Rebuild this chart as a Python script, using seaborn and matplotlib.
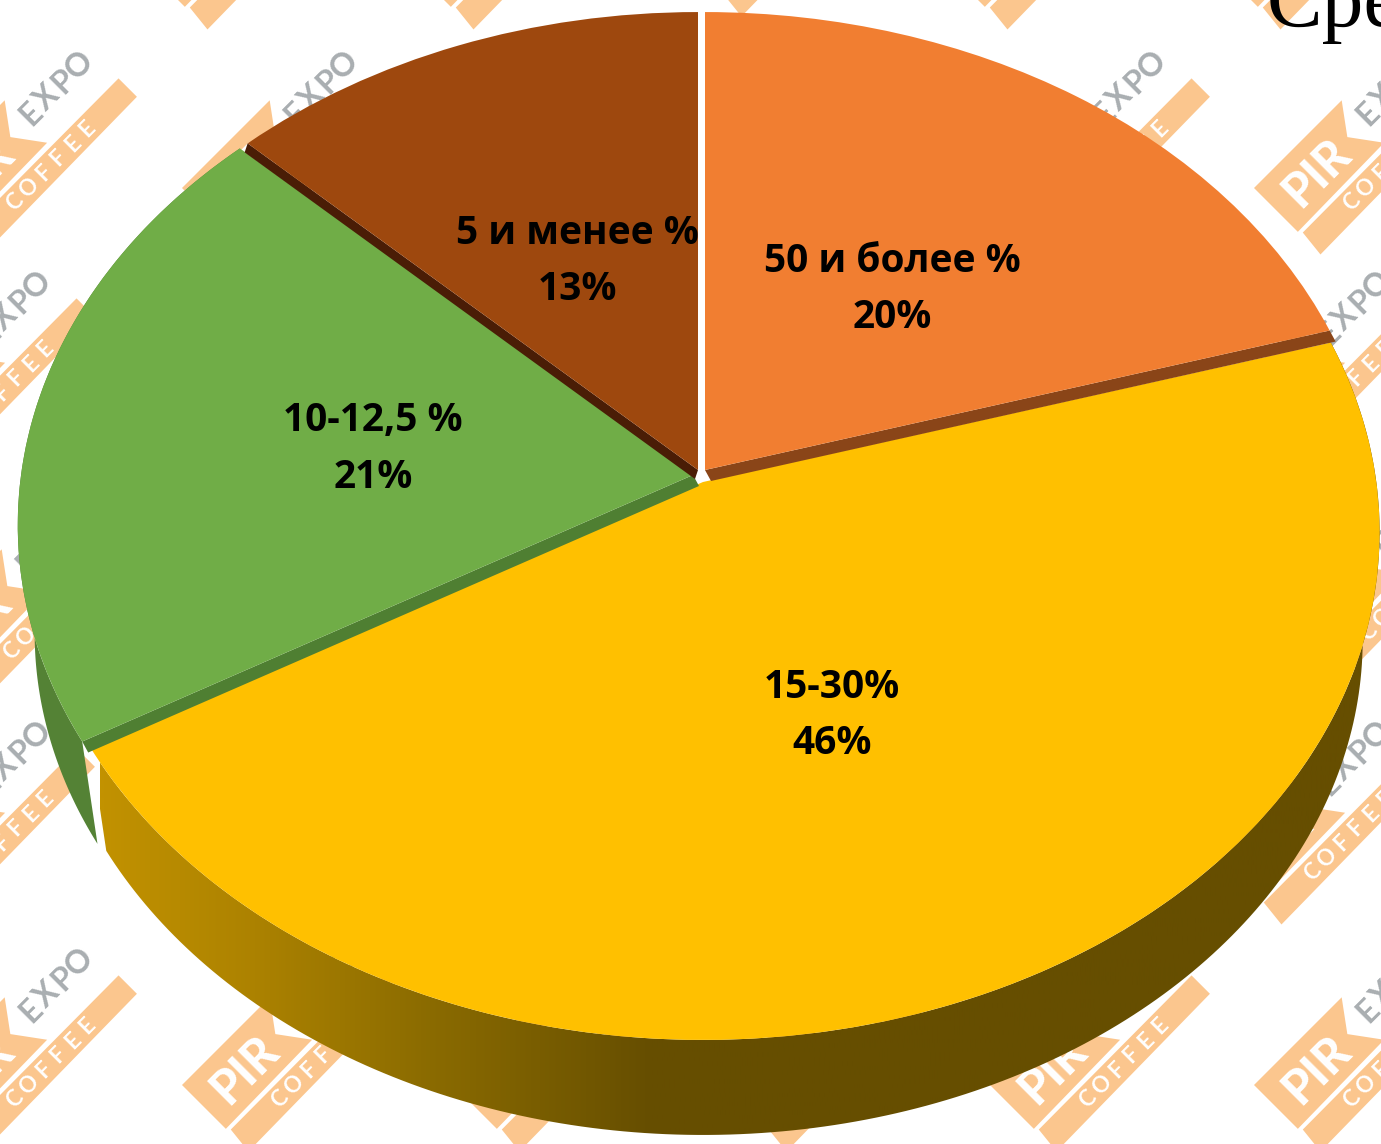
import numpy as np
import matplotlib
matplotlib.use('Agg')
import matplotlib.pyplot as plt
import matplotlib.transforms as mtransforms
from matplotlib.colors import LinearSegmentedColormap
from matplotlib.patches import Polygon
import seaborn as sns

categories = ['50 и более %', '15-30%', '10-12,5 %', '5 и менее %']
values = [20.4, 46.2, 20.6, 12.8]
shown_percent = [20, 46, 21, 13]

top_colors = ['#F17E31', '#FFC000', '#70AD47', '#9E480E']
wall_colors = ['#8A4518', None, '#4F7F32', '#4A1D06']

# px offset and x scale of each slice, offset of its cut wall
slice_shift = [(5, -8, 0.99), (3, 4, 0.995), (-7, -3, 0.993), (-2, -8, 0.987)]
wall_offset = [(6, 11), None, (6, 11), (-3, 9)]
wall_edge = ['theta1', None, 'theta2', 'theta2']
label_pos = [(892, 262, 318), (832, 687, 744), (373, 421, 477), (577, 234, 290)]

logo_spots = [(-83, 188), (182, 188), (990, 188), (1254, 188),
              (-125, 408), (1215, 408), (-86, 637), (1271, 618),
              (-125, 858), (1215, 858), (-83, 1085), (182, 1085),
              (453, 1085), (720, 1085), (990, 1085), (1254, 1085),
              (141, -37), (407, -37), (675, -50), (941, -37), (1214, -37)]

APEX_X, APEX_Y = 700, 478
A, B, K = 503.0, 676.7, 0.0984
SIDE_SCALE, SIDE_DROP = 0.975, 109

RIBBON = '#FBC68E'
GREY = '#A9AEB1'


def project(x, y, shift=(0, 0, 1)):
    d = 1 + K * y
    return APEX_X + shift[0] + shift[2] * B * x / d, APEX_Y + shift[1] - A * y / d


class Tilted(mtransforms.Transform):
    input_dims = 2
    output_dims = 2

    def __init__(self, shift):
        super().__init__()
        self.shift = shift

    def transform_non_affine(self, pts):
        pts = np.asarray(pts)
        px, py = project(pts[:, 0], pts[:, 1], self.shift)
        return np.column_stack([px, py])


def rim(t1, t2, shift, n=200):
    t = np.radians(np.linspace(t1, t2, n))
    return project(np.cos(t), np.sin(t), shift)


def side_polygon(wedge, shift):
    px, py = rim(wedge.theta1, wedge.theta2, shift)
    lx = APEX_X + shift[0] + (px - APEX_X - shift[0]) * SIDE_SCALE
    ly = APEX_Y + shift[1] + (py - APEX_Y - shift[1]) * SIDE_SCALE + SIDE_DROP
    return np.column_stack([np.r_[px, lx[::-1]], np.r_[py, ly[::-1]]])


def draw_logo(ax, x0, y0):
    def uv(u, v):
        return x0 + (u + v) / np.sqrt(2), y0 + (v - u) / np.sqrt(2)

    block = [uv(*p) for p in [(0, 0), (124, 0), (102, 30), (124, 60), (0, 62)]]
    ribbon = [uv(*p) for p in [(3, 66), (220, 65), (220, 91), (0, 94)]]
    ax.add_patch(Polygon(block, fc=RIBBON, ec='none', zorder=1))
    ax.add_patch(Polygon(ribbon, fc=RIBBON, ec='none', zorder=1))

    px, py = uv(55, 34)
    ax.text(px, py, 'PIR', color='white', fontsize=34, fontweight=900, family='Lato',
            rotation=45, rotation_mode='anchor', ha='center', va='center', zorder=2)
    for i, letter in enumerate('COFFEE'):
        px, py = uv(59 + i * 20.6, 79)
        ax.text(px, py, letter, color='white', fontsize=16, fontweight='bold', family='Lato',
                rotation=45, rotation_mode='anchor', ha='center', va='center', zorder=2)
    for i, letter in enumerate('EXPO'):
        px, py = uv(133 + i * 23, 28)
        ax.text(px, py, letter, color=GREY, fontsize=23, fontweight='bold', family='Lato',
                rotation=45, rotation_mode='anchor', ha='center', va='center', zorder=2)


sns.set_theme(style='white')
plt.rcParams['font.family'] = ['Open Sans', 'DejaVu Sans']

fig = plt.figure(figsize=(13.81, 11.44), dpi=100, facecolor='white')
ax = fig.add_axes([0, 0, 1, 1])

wedges, _ = ax.pie(values, colors=sns.color_palette(top_colors), startangle=90, counterclock=False,
                   radius=1, wedgeprops={'linewidth': 0})
ax.set_aspect('auto')

order = {1: 5, 2: 7, 3: 9, 0: 11}
for i, wedge in enumerate(wedges):
    wedge.set_transform(Tilted(slice_shift[i]) + ax.transData)
    wedge.set_zorder(order[i])
    wedge.set_clip_on(False)

    if wall_colors[i] is None:
        continue
    # cut wall shows under the slice's clockwise edge
    angle = getattr(wedge, wall_edge[i])
    sx, sy, _scale = slice_shift[i]
    ex, ey = project(np.cos(np.radians(angle)), np.sin(np.radians(angle)), slice_shift[i])
    wx, wy = wall_offset[i]
    ax.add_patch(Polygon([(APEX_X + sx, APEX_Y + sy), (ex, ey), (ex + wx, ey + wy),
                          (APEX_X + sx + wx, APEX_Y + sy + wy)],
                         fc=wall_colors[i], ec='none', zorder=order[i] - 1))

# outer side of the two front slices
yellow_side = Polygon(side_polygon(wedges[1], slice_shift[1]), fc='none', ec='none', zorder=4)
ax.add_patch(yellow_side)
side_cmap = LinearSegmentedColormap.from_list(
    'side', [(0, '#C29200'), (0.12, '#AC8200'), (0.25, '#8C6C00'), (0.38, '#715700'), (0.43, '#664E00'), (1, '#664E00')])
im = ax.imshow(np.linspace(0, 1, 512)[None, :], cmap=side_cmap, aspect='auto',
               extent=(100, 1381, 1144, 0), zorder=4)
im.set_clip_path(yellow_side)

ax.add_patch(Polygon(side_polygon(wedges[2], slice_shift[2]), fc='#548235', ec='none', zorder=3))

for name, pct, (x, y1, y2) in zip(categories, shown_percent, label_pos):
    ax.text(x, y1, name, fontsize=28, fontweight='bold', color='black', ha='center', va='center', zorder=20)
    ax.text(x, y2, f'{pct}%', fontsize=28, fontweight='bold', color='black', ha='center', va='center', zorder=20)

for x0, y0 in logo_spots:
    draw_logo(ax, x0, y0)

ax.text(1267, 26, 'Средний', fontsize=60, color='black', family='Liberation Serif', ha='left', va='baseline', zorder=20)

ax.set_xlim(0, 1381)
ax.set_ylim(1144, 0)
ax.axis('off')

fig.savefig('out.png', dpi=100, facecolor='white')
